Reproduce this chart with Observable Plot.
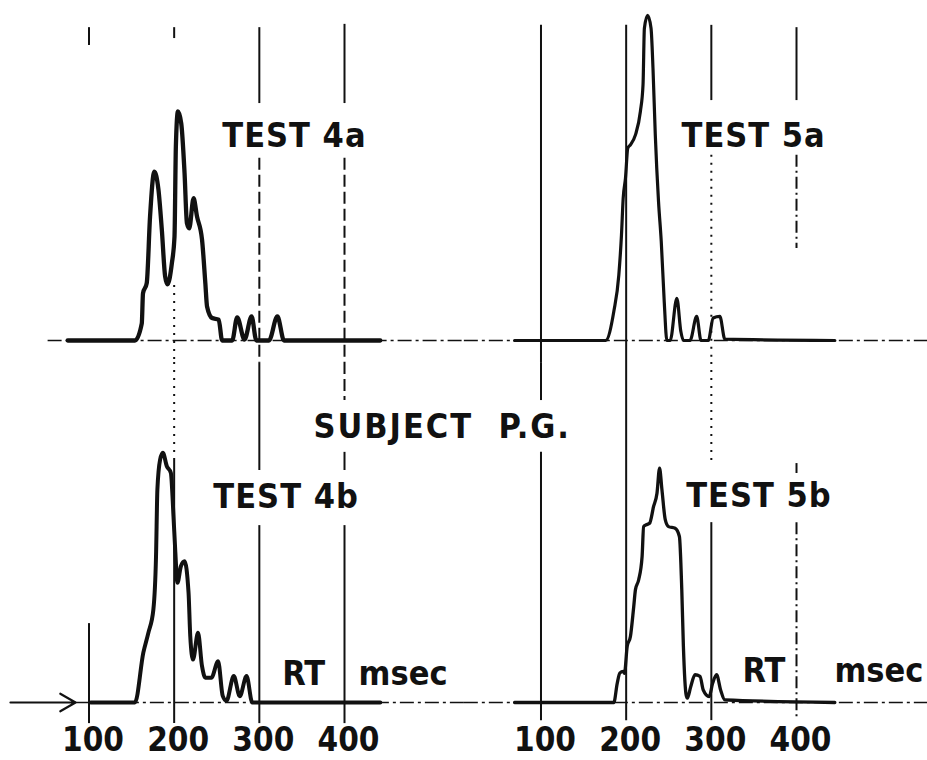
<!DOCTYPE html>
<html>
<head>
<meta charset="utf-8">
<script src="https://cdn.jsdelivr.net/npm/d3@7"></script>
<script src="https://cdn.jsdelivr.net/npm/@observablehq/plot@0.6"></script>
<style>
  html, body { margin: 0; padding: 0; background: #fff; }
  #chart { width: 927px; height: 760px; }
</style>
</head>
<body>
<div id="chart"></div>
<script>
// ---------- DATA ----------
// x tick labels (RT, msec)
const ticks = [100, 200, 300, 400];

// Reaction-time distributions, RT in msec, relative frequency (peak of 5a ≈ 100)
const test4a_rt = [75, 154, 162, 163.4, 167.8, 171.7, 176.7, 181.5, 185.5, 189.4, 192.1, 197.3, 200.4, 202, 204.4, 208.3, 212.2, 215, 217.7, 222.8, 226.8, 232.7, 236.6, 238.6, 244.5, 252.3, 256.3, 268.1, 274, 282.6, 290.9, 296.5, 311.3, 321.2, 329, 442];
const test4a_f  = [0, 0, 5.2, 14.3, 17.4, 37.6, 51.2, 45.8, 33.6, 19.4, 17, 23.4, 31.5, 58.8, 69.4, 65.8, 50.7, 35.5, 34, 43.1, 37.6, 30.6, 17.4, 10.3, 6.8, 6.3, 0, 0, 7.0, 0.3, 7.3, 0, 0, 7.3, 0, 0];

const test5a_rt = [69, 175.8, 185.5, 191.4, 194.5, 196.5, 199.2, 201.9, 205, 210.9, 216.7, 219.8, 221.4, 225.2, 229.2, 231.5, 234.2, 238, 241.2, 244.7, 247.8, 251.7, 259.5, 264.2, 267.2, 275, 282.8, 287.9, 296.4, 302.2, 310, 315.9, 445];
const test5a_f  = [0, 0, 8.8, 19.9, 32, 43.1, 49.2, 58.3, 59.3, 62.3, 69.4, 77.5, 94.6, 98.5, 94.6, 82.5, 62.3, 42.1, 30, 11.8, 0, 0, 12.8, 2.7, 0, 0, 7.3, 0, 0, 6.8, 7.3, 0.4, 0];

const test4b_rt = [102, 154, 163.8, 169.7, 175.6, 178.7, 180.3, 183.5, 186.7, 191.4, 196.1, 199.2, 201.2, 203.9, 207.9, 212.2, 216.9, 218.9, 222.1, 228, 232.7, 236.6, 243.7, 251.6, 257, 261.4, 270, 277, 285, 291.7, 442];
const test4b_f  = [0, 0, 15.1, 21.1, 28.2, 44.3, 64.5, 73.6, 75.7, 71.6, 69.6, 56.5, 46.4, 36.3, 41.3, 42.8, 33.2, 20.1, 13, 21.1, 11, 7.5, 7.5, 12.5, 2, 0.5, 8, 1.9, 8, 0, 0];

const test5b_rt = [69, 185.5, 189.5, 192.5, 196.5, 198, 201.2, 205, 208.9, 210.9, 214.7, 218.7, 220.5, 223.3, 227.5, 232.2, 236.2, 239.2, 242, 245.9, 249.7, 257.5, 262.5, 265.3, 267.2, 270.4, 271.9, 275.8, 280.9, 286.7, 290.5, 297.5, 301.5, 306.2, 310.9, 315.9, 445];
const test5b_f  = [0, 0, 5.8, 8.9, 9.4, 8.8, 17, 20, 29.1, 34.2, 37.2, 44.2, 53.3, 53.8, 54.3, 59.4, 63.4, 71, 64.5, 55.4, 53.3, 52.8, 50.3, 34.2, 17, 2.3, 1.3, 4.8, 8.4, 7.9, 3.8, 1.8, 5.8, 8.4, 3.8, 0.8, 0];

// ---------- build tables ----------
const rows = (test, part, rt, f) => rt.map((x, i) => ({test, part, rt: x, f: f[i]}));
const s4a = rows("4", "a", test4a_rt, test4a_f);
const s5a = rows("5", "a", test5a_rt, test5a_f);
const s4b = rows("4", "b", test4b_rt, test4b_f);
const s5b = rows("5", "b", test5b_rt, test5b_f);

// ---------- layout of the printed (partly faded) grid lines, per panel ----------
const gridLayout = [
  ["4","a",100, 94.8, 89.4,"solid"], ["4","a",200, 94.8, 91.5,"solid"], ["4","a",200, 16.7,-6.67,"dotted"],
  ["4","a",300, 94.8, 71.8,"solid"], ["4","a",300, 55.2,-6.67,"dashed"],
  ["4","a",400, 95.8, 71.8,"solid"], ["4","a",400, 55.2,-6.67,"dashed"],
  ["4","b",100, 23.9,-6.4,"solid"], ["4","b",200, 103, 73.3,"dotted"], ["4","b",200, 73.3,-6.4,"solid"],
  ["4","b",300, 103, 70.3,"solid"], ["4","b",300, 53.6,-6.4,"solid"],
  ["4","b",400, 103, 91.5,"dashed"], ["4","b",400, 75.8, 70.3,"solid"], ["4","b",400, 53.6,-6.4,"solid"],
  ["5","a",100, 95.5,-6.67,"solid"], ["5","a",200, 95.5,-6.67,"solid"],
  ["5","a",300, 95.5, 72.7,"solid"], ["5","a",300, 56.1,-6.67,"dotted"],
  ["5","a",400, 94.8, 72.7,"solid"], ["5","a",400, 56.1, 27.9,"dashdot"],
  ["5","b",100, 103, 91.5,"solid"], ["5","b",100, 75.8,-5.5,"solid"], ["5","b",200, 103,-5.5,"solid"],
  ["5","b",300, 103, 71.8,"dotted"], ["5","b",300, 54.5,-5.5,"solid"],
  ["5","b",400, 72.4, 69.4,"solid"], ["5","b",400, 54.5,-5.5,"dashdot"]
].map(([test, part, i, y1, y2, style]) => ({test, part, tick: ticks[ticks.indexOf(i)], y1, y2, style}));
const dashes = {solid: null, dotted: "2 6", dashed: "12 5", dashdot: "12 4 2 4"};

const axisLayout = [
  {test: "4", part: "a", x1: 52, x2: 541},
  {test: "4", part: "b", x1: 84, x2: 541},
  {test: "5", part: "a", x1: 10, x2: 556},
  {test: "5", part: "b", x1: 10, x2: 556}
];

const labels = [
  {test: "4", part: "a", text: "TEST 4a", x: 256.5, y: 58.5, ls: 1},
  {test: "5", part: "a", text: "TEST 5a", x: 265, y: 58.5, ls: 1},
  {test: "4", part: "b", text: "TEST 4b", x: 246, y: 58.8, ls: 1},
  {test: "5", part: "b", text: "TEST 5b", x: 270.5, y: 59.1, ls: 1},
  {test: "4", part: "b", text: "SUBJECT  P.G.", x: 363.5, y: 80.3, ls: 2},
  {test: "4", part: "b", text: "RT", x: 327, y: 5.2, ls: 0},
  {test: "4", part: "b", text: "msec", x: 416.5, y: 5.2, ls: 0},
  {test: "5", part: "b", text: "RT", x: 336.5, y: 6.1, ls: 0},
  {test: "5", part: "b", text: "msec", x: 444.5, y: 6.1, ls: 0}
];

const ink = "#111";
const gridMarks = Object.keys(dashes).map(k =>
  Plot.ruleX(gridLayout.filter(d => d.style === k), {
    x: "tick", y1: "y1", y2: "y2", fx: "test", fy: "part",
    stroke: ink, strokeWidth: 2, strokeDasharray: dashes[k]
  })
);

const lineOpts = {x: "rt", y: "f", fx: "test", fy: "part", curve: "monotone-x", stroke: ink, strokeLinejoin: "round", strokeLinecap: "round"};

const textMarks = [0, 1, 2].map(ls =>
  Plot.text(labels.filter(d => d.ls === ls), {
    x: "x", y: "y", text: "text", fx: "test", fy: "part",
    textAnchor: "start", lineAnchor: "bottom", fontSize: 34, fill: ink,
    render(index, scales, values, dimensions, context, next) {
      const g = next(index, scales, values, dimensions, context);
      g.setAttribute("letter-spacing", ls + "px");
      return g;
    }
  })
);

const chart = Plot.plot({
  width: 927,
  height: 760,
  marginTop: 0, marginRight: 23, marginBottom: 36, marginLeft: 0,
  style: {fontFamily: "'DejaVu Sans Condensed', 'DejaVu Sans', sans-serif", fontWeight: "bold", background: "#fff", color: ink, overflow: "visible"},
  fx: {domain: ["4", "5"], padding: 0, axis: null},
  fy: {domain: ["a", "b"], padding: 0, axis: null},
  x: {domain: [-3.9, 526.8]},
  y: {domain: [-6.67, 103.03], axis: null},
  marks: [
    Plot.ruleY(axisLayout, {y: 0, x1: "x1", x2: "x2", fx: "test", fy: "part", stroke: ink, strokeWidth: 1.6, strokeDasharray: "14 4 3 4"}),
    Plot.arrow([{test: "4", part: "b"}], {fx: "test", fy: "part", x1: 7.8, x2: 84.2, y1: 0, y2: 0, bend: false, headLength: 12, stroke: ink, strokeWidth: 2.2}),
    ...gridMarks,
    Plot.line(s4a, {...lineOpts, strokeWidth: 4.3}),
    Plot.line(s5a, {...lineOpts, strokeWidth: 3.2}),
    Plot.line(s4b, {...lineOpts, strokeWidth: 4}),
    Plot.line(s5b, {...lineOpts, strokeWidth: 3.3}),
    ...textMarks,
    Plot.axisX(ticks, {tickSize: 0, tickPadding: 3, fontSize: 33, dx: 4, label: null, fill: ink})
  ]
});
document.getElementById("chart").appendChild(chart);
</script>
</body>
</html>
